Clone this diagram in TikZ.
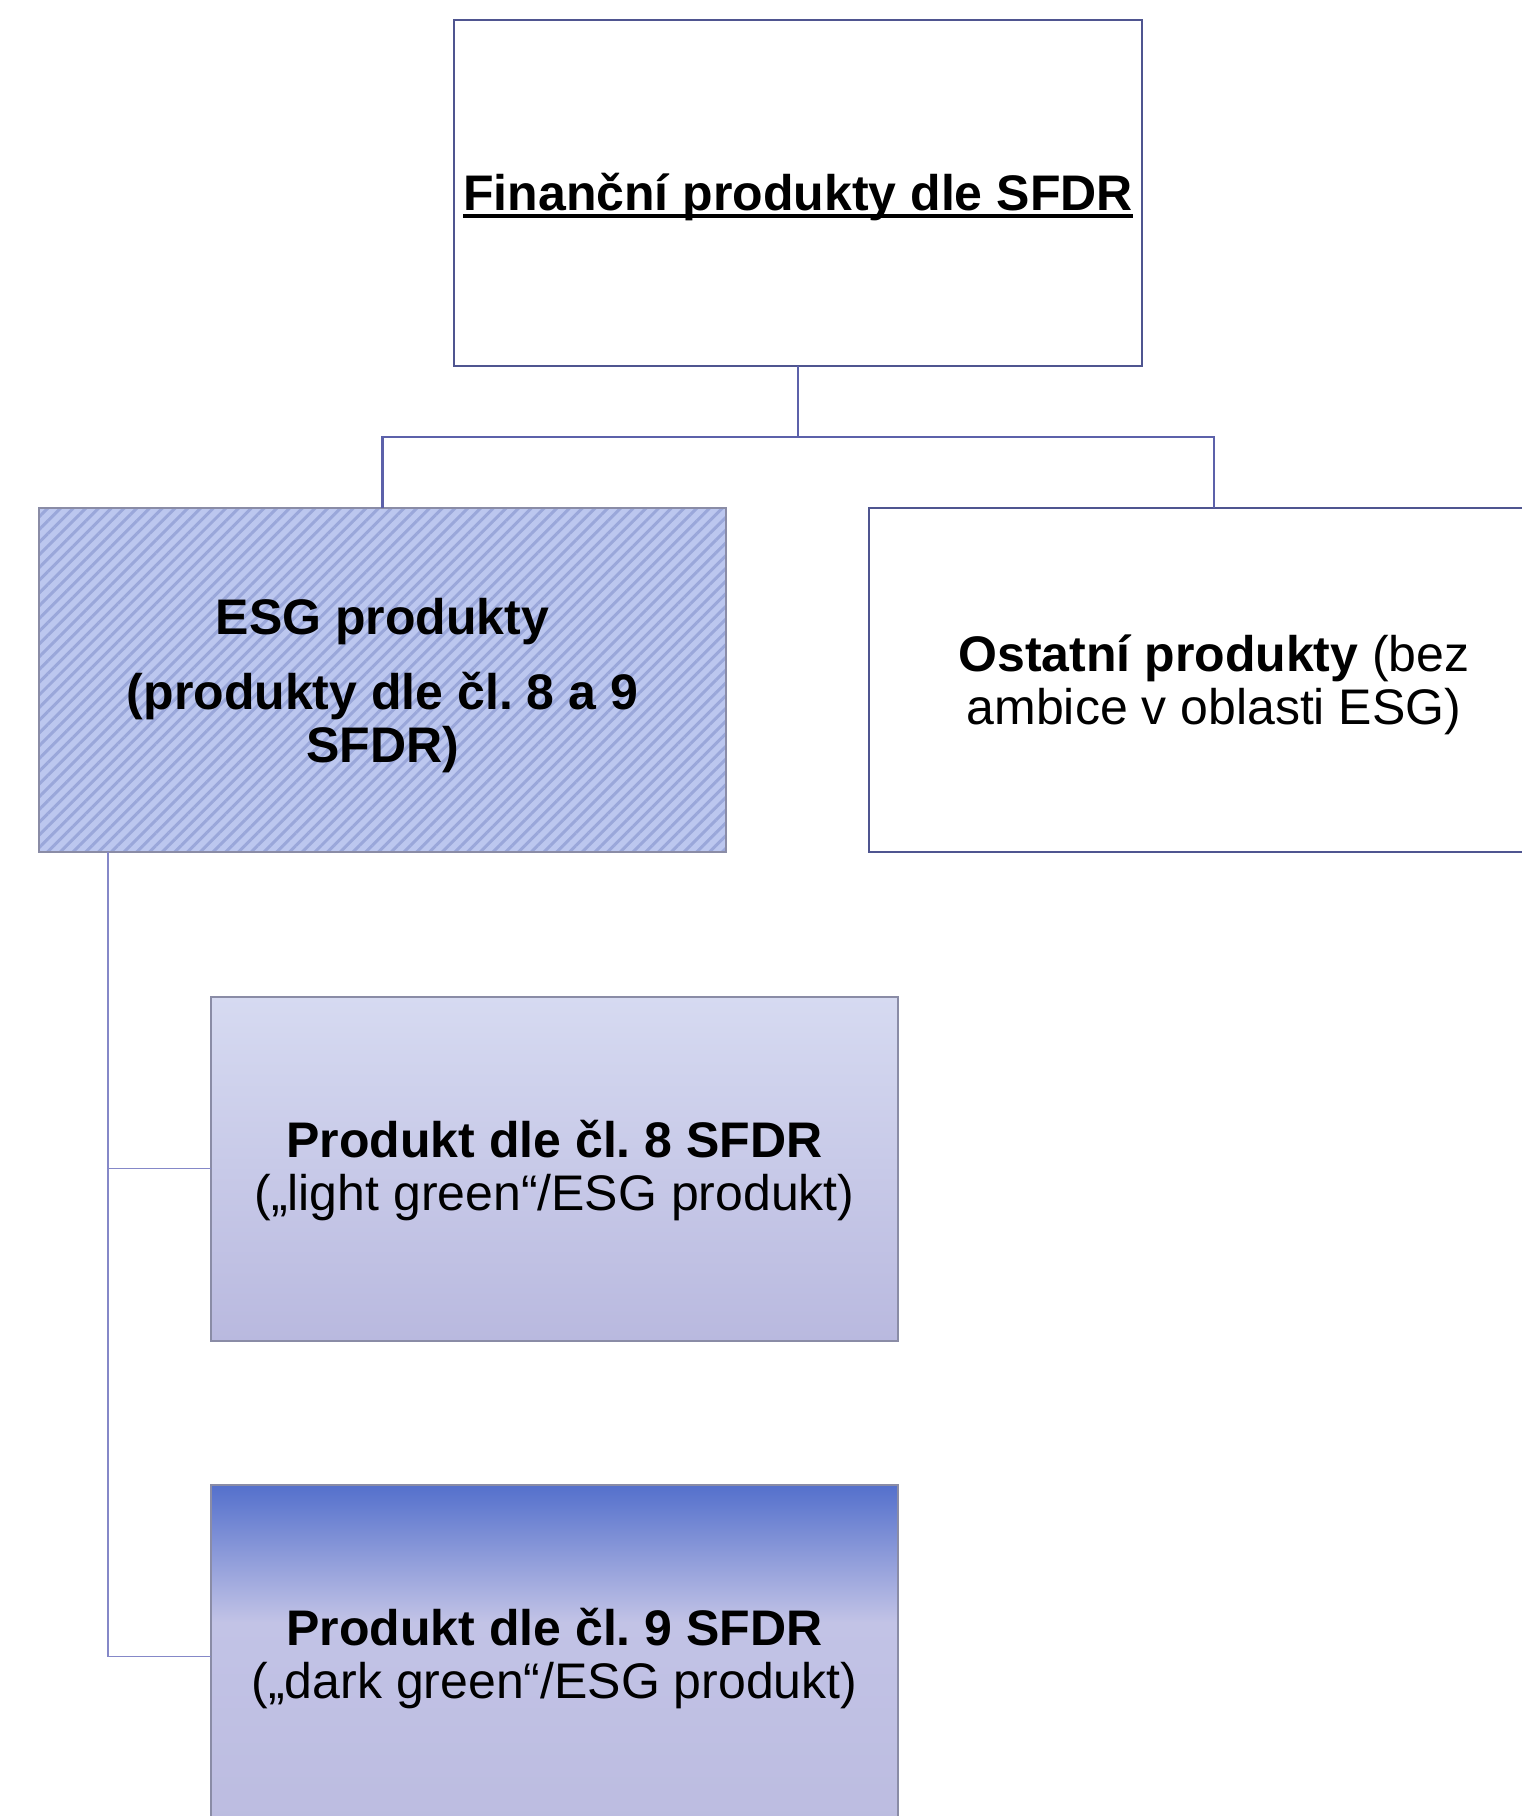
\documentclass[tikz,border=0pt]{standalone}
\usepackage{fontspec}
\setmainfont{Liberation Sans}
\usetikzlibrary{patterns.meta}
\frenchspacing
\definecolor{connA}{HTML}{5C61AA}
\definecolor{connB}{HTML}{8588C8}
\definecolor{frameA}{HTML}{4F5590}
\definecolor{frameG}{HTML}{8A8CA6}
\definecolor{esgfill}{HTML}{BCC7EF}
\definecolor{esgstripe}{HTML}{9AA7DA}
\definecolor{peightT}{HTML}{D6DAF1}
\definecolor{peightB}{HTML}{B9B9DF}
\definecolor{pnineT}{HTML}{5470CC}
\definecolor{pnineM}{HTML}{C2C3E6}
\definecolor{pnineB}{HTML}{BCBCE0}
\pgfdeclareverticalshading{pninesh}{100bp}{color(0bp)=(pnineB); color(25bp)=(pnineB); color(55bp)=(pnineM); color(75bp)=(pnineT); color(100bp)=(pnineT)}
\begin{document}
\begin{tikzpicture}[x=1pt,y=1pt,
  box/.style={draw, rectangle, inner sep=0pt, outer sep=0pt,
    minimum width=687pt, minimum height=344pt, line width=2pt},
  txt/.style={inner sep=0pt, align=center, font=\fontsize{50}{53}\selectfont},
  linkA/.style={draw=connA, line width=2.2pt},
  linkB/.style={draw=connB, line width=1.8pt}]
\useasboundingbox (0,0) rectangle (1522,-1816);
\clip (0,0) rectangle (1522,-1816);

% top box
\node[box, draw=frameA, line width=2.6pt, minimum width=688pt, minimum height=346pt] (top) at (798,-193) {};
\node[anchor=base, inner sep=0pt, font=\fontsize{50}{53}\selectfont\bfseries] (ttl) at (798,-210) {Finanční produkty dle SFDR};
\draw[line width=3.5pt] ([yshift=-6pt]ttl.base west) -- ([yshift=-6pt]ttl.base east);

% second level
\node[box, draw=frameG, preaction={fill=esgfill},
  pattern={Lines[angle=45,distance=9pt,line width=3pt]}, pattern color=esgstripe] (esg) at (382.5,-680) {};
\node[txt, font=\fontsize{50}{53}\selectfont\bfseries] (esgt) at (382.5,-686)
  {ESG produkty\\[22pt](produkty dle čl. 8 a 9\\SFDR)};
\node[box, draw=frameA, minimum width=690pt] (ost) at (1214,-680) {};
\node[txt] (ostt) at (1214,-685) {\textbf{Ostatní produkty} (bez\\ambice v oblasti ESG)};

% third level
\node[box, draw=frameG, top color=peightT, bottom color=peightB] (p8) at (554.5,-1168.5) {};
\node[txt] (p8t) at (554.5,-1171) {\textbf{Produkt dle čl. 8 SFDR}\\(„light green“/ESG produkt)};
\node[box, draw=frameG, shading=pninesh, minimum height=343pt] (p9) at (554.5,-1656.5) {};
\node[txt] (p9t) at (554.5,-1659) {\textbf{Produkt dle čl. 9 SFDR}\\(„dark green“/ESG produkt)};

% connectors
\coordinate (j) at (798,-437);
\draw[linkA] (top.south) -- (j);
\draw[linkA] (j) -| (esg.north);
\draw[linkA] (j) -| (ost.north);
\coordinate (v) at (108,-852);
\draw[linkB] (v) |- (p8.west);
\draw[linkB] (v) |- (p9.west);
\end{tikzpicture}
\end{document}
